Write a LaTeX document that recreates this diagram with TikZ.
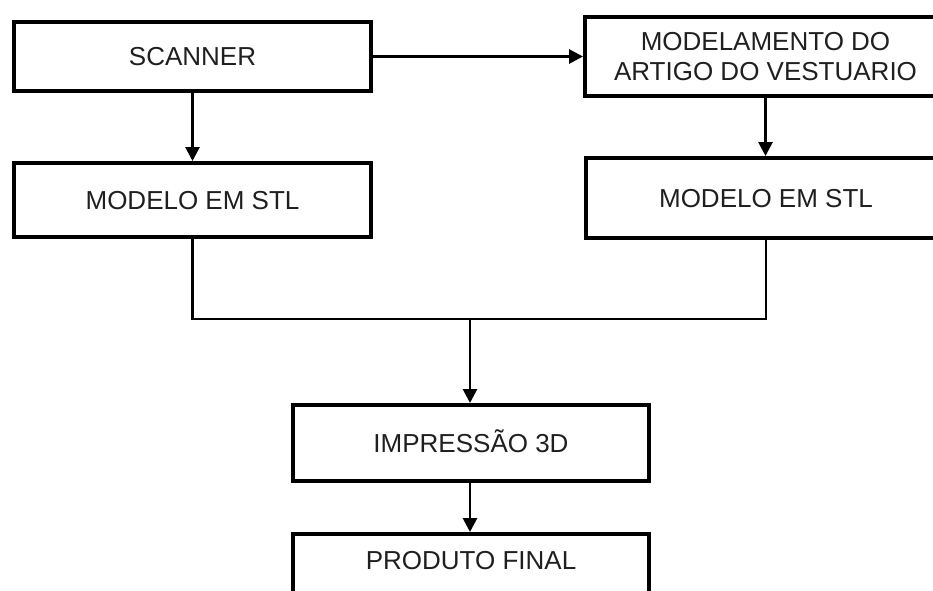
\documentclass[tikz,border=0pt]{standalone}
\usepackage{fontspec}
\setmainfont{Liberation Sans}
\usetikzlibrary{arrows.meta}

\tikzset{
  flowbox/.style={draw=black, line width=4pt, rectangle, inner sep=0pt,
    text=black!88, align=center, font=\fontsize{26}{30}\selectfont},
  oneline/.style={flowbox, text height=18.6pt, text depth=0pt},
  flowline/.style={draw=black, line width=2.8pt},
  flowarrow/.style={flowline, -{Triangle[length=14pt,width=14pt]}},
}

\begin{document}
\begin{tikzpicture}[x=1pt, y=-1pt]
  \useasboundingbox (0,0) rectangle (933,590);

  % process boxes
  \node[oneline, minimum width=357pt, minimum height=69pt] (scanner) at (192.5,56.5) {SCANNER};
  \node[flowbox, minimum width=361pt, minimum height=79pt] (model) at (765.5,56.5)
    {MODELAMENTO DO\\ARTIGO DO VESTUARIO};
  \node[oneline, minimum width=357pt, minimum height=74pt] (stlL) at (192.5,200) {MODELO EM STL};
  \node[oneline, minimum width=360pt, minimum height=80pt] (stlR) at (766,198) {MODELO EM STL};
  \node[oneline, minimum width=356pt, minimum height=76pt] (print) at (471,443) {IMPRESSÃO 3D};
  \node[oneline, minimum width=356pt, minimum height=66pt, text depth=14pt] (final) at (471,567) {PRODUTO FINAL};

  % junction of the two STL branches
  \coordinate (join) at (470,319);

  % connectors
  \draw[flowarrow] (scanner.east) -- (scanner.east -| model.west);
  \draw[flowarrow] (scanner.south) -- (stlL.north);
  \draw[flowarrow] (model.south) -- (model.south |- stlR.north);
  \draw[flowline] (stlL.south) |- (join) -| (stlR.south);
  \draw[flowarrow] (join) -- (join |- print.north);
  \draw[flowarrow] (join |- print.south) -- (join |- final.north);
\end{tikzpicture}
\end{document}
